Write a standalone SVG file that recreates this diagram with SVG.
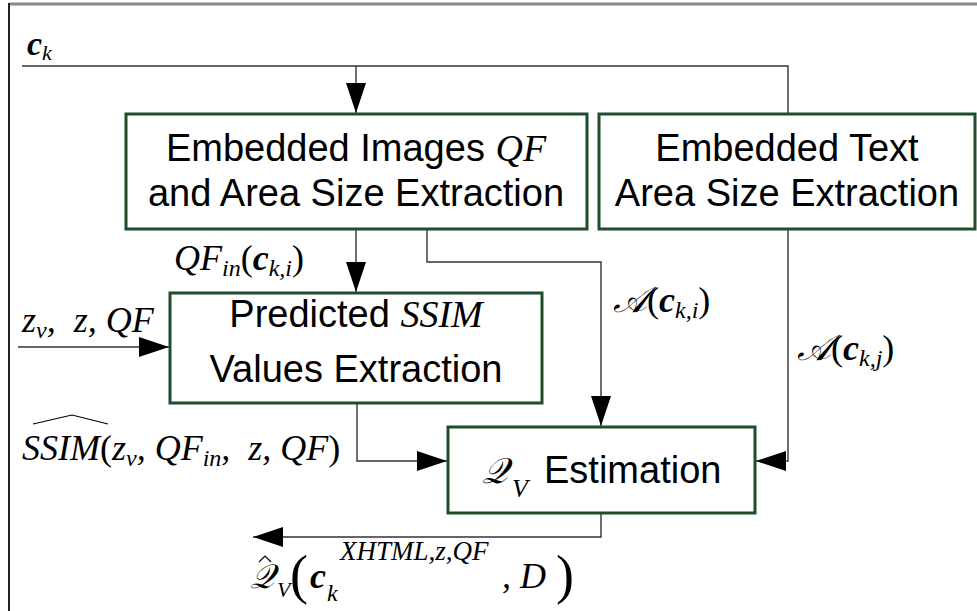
<svg xmlns="http://www.w3.org/2000/svg" width="977" height="611" viewBox="0 0 977 611">
<defs>
<marker id="ah" markerUnits="userSpaceOnUse" markerWidth="30" markerHeight="20" refX="30" refY="10" orient="auto"><path d="M0,0 L30,10 L0,20 z" fill="#000"/></marker>
<style>
.box{fill:#fff;stroke:#1f4d2c;stroke-width:3}
.lbl{font-family:"Liberation Sans",Arial,sans-serif;font-size:38px;fill:#000}
.m{font-family:"Liberation Serif","Times New Roman",serif;font-style:italic;fill:#000}
.n{font-style:normal}
.b{font-weight:bold}
.c{fill:none;stroke:#333;stroke-width:1.4}
.hat{fill:none;stroke:#000;stroke-width:1.2}
</style>
</defs>
<rect width="977" height="611" fill="#fff"/>
<g id="frame">
<line x1="9" y1="4" x2="977" y2="4" stroke="#8a8a8a" stroke-width="3"/>
<line x1="9" y1="3" x2="9" y2="611" stroke="#222" stroke-width="2"/>
</g>
<g id="connectors">
<path class="c" d="M22,66 H788 V114"/>
<path class="c" d="M356,66 V113" marker-end="url(#ah)"/>
<path class="c" d="M356,229 V292" marker-end="url(#ah)"/>
<path class="c" d="M427,229 V262 H601 V426" marker-end="url(#ah)"/>
<path class="c" d="M788,229 V461 H756" marker-end="url(#ah)"/>
<path class="c" d="M18,347 H169" marker-end="url(#ah)"/>
<path class="c" d="M357,403 V461 H447" marker-end="url(#ah)"/>
<path class="c" d="M601,513 V537 H253" marker-end="url(#ah)"/>
</g>
<g id="input-ck">
<text class="m" x="27" y="55" font-size="34"><tspan class="b">c</tspan><tspan font-size="22" dy="5">k</tspan></text>
</g>
<g id="node-images">
<rect class="box" x="126" y="114" width="461" height="115"/>
<text class="lbl" x="356" y="161" text-anchor="middle">Embedded Images <tspan class="m">QF</tspan></text>
<text class="lbl" x="356" y="206" text-anchor="middle">and Area Size Extraction</text>
</g>
<g id="node-text">
<rect class="box" x="599" y="114" width="376" height="115"/>
<text class="lbl" x="787" y="161" text-anchor="middle">Embedded Text</text>
<text class="lbl" x="787" y="206" text-anchor="middle">Area Size Extraction</text>
</g>
<g id="node-ssim">
<rect class="box" x="170" y="293" width="372" height="110"/>
<text class="lbl" x="356" y="327" text-anchor="middle">Predicted <tspan class="m">SSIM</tspan></text>
<text class="lbl" x="356" y="382" text-anchor="middle">Values Extraction</text>
</g>
<g id="node-qv">
<rect class="box" x="448" y="427" width="307" height="86"/>
<text class="m" font-size="36"><tspan x="482" y="483">𝒬</tspan><tspan x="512" y="497" font-size="26">V</tspan></text>
<text class="lbl" x="544" y="483">Estimation</text>
</g>
<g id="labels">
<text class="m" x="174" y="270" font-size="36">QF<tspan font-size="24" dy="6">in</tspan><tspan class="n" dy="-6">(</tspan><tspan class="b">c</tspan><tspan font-size="24" dy="6">k,i</tspan><tspan class="n" dy="-6">)</tspan></text>
<text class="m" x="22" y="332" font-size="36">z<tspan font-size="24" dy="6">v</tspan><tspan dy="-6">,&#160; z, QF</tspan></text>
<text class="m" x="613" y="312" font-size="36">𝒜<tspan class="n">(</tspan><tspan class="b">c</tspan><tspan font-size="24" dy="6">k,i</tspan><tspan class="n" dy="-6">)</tspan></text>
<text class="m" x="797" y="360" font-size="36">𝒜<tspan class="n">(</tspan><tspan class="b">c</tspan><tspan font-size="24" dy="6">k,j</tspan><tspan class="n" dy="-6">)</tspan></text>
<polyline class="hat" points="33,424 72,415 108,424"/>
<text class="m" x="22" y="460" font-size="36">SSIM<tspan class="n">(</tspan>z<tspan font-size="24" dy="6">v</tspan><tspan dy="-6">, QF</tspan><tspan font-size="24" dy="6">in</tspan><tspan dy="-6">,&#160; z, QF</tspan><tspan class="n">)</tspan></text>
<polyline class="hat" points="259,562 265,556 271,562" stroke-width="1.6"/>
<text class="m" font-size="36"><tspan x="250" y="588" font-size="34">𝒬</tspan><tspan x="277" y="597" font-size="22">V</tspan><tspan x="290" y="593" class="n" font-size="54">(</tspan><tspan x="310" y="588" class="b">c</tspan><tspan x="327" y="601" font-size="24">k</tspan><tspan x="340" y="560" font-size="27">XHTML,z,QF</tspan><tspan x="502" y="588">, D</tspan><tspan x="556" y="593" class="n" font-size="54">)</tspan></text>
</g>
</svg>
